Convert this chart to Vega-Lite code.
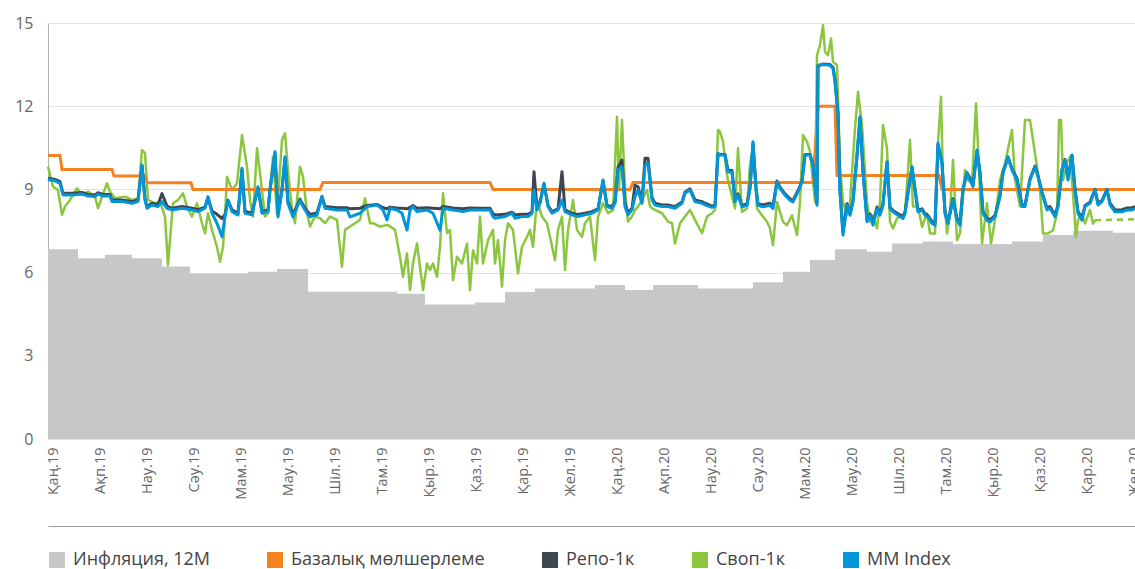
{
  "$schema": "https://vega.github.io/schema/vega-lite/v6.json",
  "width": 1087,
  "height": 416,
  "autosize": {"type": "none"},
  "padding": {"left": 48, "top": 23, "right": 0, "bottom": 130},
  "background": "white",
  "config": {
    "view": {"stroke": null},
    "font": "Open Sans",
    "axis": {"labelFont": "Open Sans", "labelColor": "#666666", "ticks": false}
  },
  "datasets": {
    "infl": [
      {"d": 0, "v": 6.84}, {"d": 30, "v": 6.52}, {"d": 57, "v": 6.64}, {"d": 84, "v": 6.52},
      {"d": 114, "v": 6.22}, {"d": 142, "v": 5.97}, {"d": 200, "v": 6.03}, {"d": 229, "v": 6.13},
      {"d": 260, "v": 5.31}, {"d": 349, "v": 5.24}, {"d": 377, "v": 4.85}, {"d": 427, "v": 4.92},
      {"d": 457, "v": 5.3}, {"d": 487, "v": 5.43}, {"d": 547, "v": 5.55}, {"d": 577, "v": 5.37},
      {"d": 605, "v": 5.55}, {"d": 650, "v": 5.43}, {"d": 705, "v": 5.65}, {"d": 735, "v": 6.03},
      {"d": 762, "v": 6.45}, {"d": 787, "v": 6.84}, {"d": 819, "v": 6.75}, {"d": 844, "v": 7.05},
      {"d": 875, "v": 7.12}, {"d": 905, "v": 7.03}, {"d": 964, "v": 7.12}, {"d": 995, "v": 7.36},
      {"d": 1025, "v": 7.51}, {"d": 1065, "v": 7.44}, {"d": 1087, "v": 7.44}
    ],
    "base": [
      {"d": 0, "v": 10.22}, {"d": 12, "v": 10.22}, {"d": 14, "v": 9.72}, {"d": 64, "v": 9.72},
      {"d": 66, "v": 9.48}, {"d": 97, "v": 9.48}, {"d": 99, "v": 9.24}, {"d": 143, "v": 9.24},
      {"d": 145, "v": 9.0}, {"d": 272, "v": 9.0}, {"d": 275, "v": 9.25}, {"d": 442, "v": 9.25},
      {"d": 445, "v": 9.0}, {"d": 582, "v": 9.0}, {"d": 585, "v": 9.25}, {"d": 765, "v": 9.25},
      {"d": 770, "v": 12.0}, {"d": 787, "v": 12.0}, {"d": 789, "v": 9.5}, {"d": 891, "v": 9.5},
      {"d": 894, "v": 9.0}, {"d": 1087, "v": 9.0}
    ],
    "swapfc": [{"d": 1047, "v": 7.89}, {"d": 1087, "v": 7.92}],
    "swap": [
      {"d":0,"v":9.82},{"d":5,"v":9.10},{"d":10,"v":8.98},{"d":14,"v":8.08},{"d":17,"v":8.38},{"d":22,"v":8.62},
      {"d":29,"v":9.04},{"d":34,"v":8.80},{"d":40,"v":8.92},{"d":47,"v":8.74},{"d":50,"v":8.32},{"d":54,"v":8.74},
      {"d":59,"v":9.22},{"d":62,"v":8.92},{"d":67,"v":8.68},{"d":77,"v":8.74},{"d":84,"v":8.62},{"d":90,"v":8.68},
      {"d":94,"v":10.42},{"d":97,"v":10.30},{"d":100,"v":8.62},{"d":107,"v":8.50},{"d":112,"v":8.56},{"d":117,"v":8.02},
      {"d":120,"v":6.27},{"d":122,"v":7.17},{"d":125,"v":8.50},{"d":130,"v":8.62},{"d":135,"v":8.86},{"d":139,"v":8.38},
      {"d":144,"v":8.02},{"d":149,"v":8.50},{"d":154,"v":7.78},{"d":157,"v":7.42},{"d":160,"v":8.14},{"d":164,"v":7.54},
      {"d":169,"v":6.93},{"d":172,"v":6.39},{"d":175,"v":6.93},{"d":177,"v":8.02},{"d":179,"v":9.46},{"d":184,"v":8.98},
      {"d":189,"v":9.22},{"d":194,"v":10.96},{"d":199,"v":9.82},{"d":202,"v":8.62},{"d":205,"v":8.02},{"d":209,"v":10.48},
      {"d":212,"v":9.58},{"d":217,"v":8.02},{"d":220,"v":8.14},{"d":222,"v":8.98},{"d":225,"v":10.18},{"d":229,"v":8.14},
      {"d":234,"v":10.78},{"d":237,"v":11.02},{"d":240,"v":9.70},{"d":244,"v":8.26},{"d":247,"v":7.78},{"d":252,"v":9.82},
      {"d":255,"v":9.46},{"d":259,"v":8.14},{"d":262,"v":7.66},{"d":267,"v":8.02},{"d":272,"v":7.96},{"d":277,"v":7.78},
      {"d":282,"v":8.02},{"d":289,"v":7.90},{"d":294,"v":6.21},{"d":297,"v":7.54},{"d":302,"v":7.66},{"d":307,"v":7.78},
      {"d":312,"v":7.90},{"d":317,"v":8.68},{"d":322,"v":7.78},{"d":325,"v":7.78},{"d":332,"v":7.66},{"d":340,"v":7.72},
      {"d":347,"v":7.54},{"d":352,"v":6.57},{"d":355,"v":5.85},{"d":359,"v":6.69},{"d":362,"v":5.37},{"d":365,"v":6.33},
      {"d":369,"v":7.05},{"d":372,"v":6.21},{"d":375,"v":5.37},{"d":379,"v":6.33},{"d":382,"v":6.09},{"d":385,"v":6.33},
      {"d":389,"v":5.85},{"d":392,"v":6.93},{"d":395,"v":8.86},{"d":399,"v":7.42},{"d":402,"v":7.54},{"d":405,"v":5.73},
      {"d":409,"v":6.57},{"d":414,"v":6.33},{"d":419,"v":7.05},{"d":422,"v":5.37},{"d":425,"v":6.81},{"d":429,"v":6.33},
      {"d":432,"v":8.02},{"d":435,"v":6.33},{"d":440,"v":7.17},{"d":445,"v":7.54},{"d":447,"v":6.33},{"d":450,"v":7.17},
      {"d":454,"v":5.49},{"d":457,"v":7.17},{"d":460,"v":7.78},{"d":465,"v":7.54},{"d":470,"v":5.97},{"d":474,"v":6.93},
      {"d":479,"v":7.29},{"d":482,"v":7.54},{"d":485,"v":6.93},{"d":489,"v":8.62},{"d":494,"v":8.02},{"d":499,"v":7.78},
      {"d":502,"v":7.29},{"d":507,"v":6.45},{"d":510,"v":7.54},{"d":514,"v":8.02},{"d":517,"v":6.09},{"d":520,"v":7.54},
      {"d":525,"v":8.62},{"d":529,"v":7.54},{"d":534,"v":7.29},{"d":537,"v":7.78},{"d":542,"v":8.02},{"d":547,"v":6.45},
      {"d":550,"v":8.02},{"d":555,"v":8.50},{"d":560,"v":8.14},{"d":565,"v":8.26},{"d":569,"v":11.62},{"d":571,"v":8.98},
      {"d":574,"v":11.50},{"d":577,"v":8.98},{"d":580,"v":7.84},{"d":584,"v":8.02},{"d":587,"v":8.26},{"d":590,"v":8.38},
      {"d":594,"v":8.62},{"d":599,"v":8.98},{"d":602,"v":8.38},{"d":607,"v":8.26},{"d":614,"v":8.14},{"d":620,"v":7.84},
      {"d":624,"v":7.78},{"d":627,"v":7.05},{"d":632,"v":7.78},{"d":637,"v":8.02},{"d":642,"v":8.26},{"d":647,"v":7.90},
      {"d":654,"v":7.42},{"d":659,"v":8.02},{"d":664,"v":8.14},{"d":667,"v":8.26},{"d":670,"v":11.14},{"d":672,"v":11.08},
      {"d":675,"v":10.72},{"d":679,"v":9.51},{"d":682,"v":9.03},{"d":687,"v":8.31},{"d":690,"v":10.48},{"d":694,"v":8.19},
      {"d":699,"v":8.31},{"d":702,"v":9.87},{"d":705,"v":10.48},{"d":709,"v":8.31},{"d":714,"v":8.07},{"d":719,"v":7.83},
      {"d":722,"v":7.59},{"d":725,"v":6.99},{"d":729,"v":8.55},{"d":732,"v":8.19},{"d":735,"v":7.83},{"d":739,"v":7.71},
      {"d":744,"v":8.07},{"d":749,"v":7.35},{"d":752,"v":8.55},{"d":755,"v":10.96},{"d":759,"v":10.72},{"d":762,"v":10.36},
      {"d":767,"v":8.55},{"d":769,"v":13.84},{"d":772,"v":14.20},{"d":775,"v":14.92},{"d":777,"v":13.96},{"d":780,"v":13.84},
      {"d":783,"v":14.44},{"d":785,"v":13.60},{"d":789,"v":13.48},{"d":792,"v":9.87},{"d":795,"v":8.55},{"d":799,"v":8.07},
      {"d":802,"v":8.55},{"d":807,"v":11.20},{"d":810,"v":12.52},{"d":814,"v":11.32},{"d":819,"v":8.55},{"d":822,"v":7.83},
      {"d":825,"v":8.07},{"d":829,"v":7.59},{"d":832,"v":8.55},{"d":835,"v":11.32},{"d":839,"v":10.48},{"d":842,"v":7.83},
      {"d":845,"v":7.59},{"d":849,"v":7.95},{"d":854,"v":8.07},{"d":857,"v":8.13},{"d":862,"v":10.78},{"d":865,"v":8.38},
      {"d":870,"v":8.38},{"d":874,"v":7.65},{"d":879,"v":8.13},{"d":882,"v":7.41},{"d":887,"v":7.41},{"d":890,"v":10.66},
      {"d":893,"v":12.34},{"d":895,"v":9.34},{"d":899,"v":7.41},{"d":902,"v":8.13},{"d":905,"v":10.06},{"d":909,"v":7.17},
      {"d":912,"v":7.41},{"d":917,"v":9.70},{"d":920,"v":9.34},{"d":924,"v":9.22},{"d":928,"v":12.10},{"d":930,"v":10.54},
      {"d":934,"v":7.05},{"d":939,"v":8.50},{"d":943,"v":7.05},{"d":947,"v":7.89},{"d":952,"v":9.34},{"d":957,"v":9.94},
      {"d":964,"v":11.14},{"d":967,"v":9.34},{"d":972,"v":8.38},{"d":977,"v":11.50},{"d":982,"v":11.50},{"d":985,"v":10.78},
      {"d":989,"v":9.82},{"d":992,"v":8.98},{"d":995,"v":7.41},{"d":1000,"v":7.41},{"d":1005,"v":7.53},{"d":1009,"v":8.13},
      {"d":1011,"v":11.50},{"d":1013,"v":11.50},{"d":1015,"v":9.34},{"d":1019,"v":9.94},{"d":1022,"v":10.18},{"d":1025,"v":8.86},
      {"d":1028,"v":7.29},{"d":1030,"v":7.89},{"d":1034,"v":8.13},{"d":1037,"v":7.77},{"d":1042,"v":8.26},{"d":1045,"v":7.77},
      {"d":1047,"v":7.89}
    ],
    "mr": [
      {"d":0,"mm":9.36,"repo":9.40},{"d":7,"mm":9.31,"repo":9.36},{"d":12,"mm":9.22,"repo":9.28},{"d":15,"mm":8.80,"repo":8.86},
      {"d":24,"mm":8.80,"repo":8.86},{"d":34,"mm":8.83,"repo":8.89},{"d":40,"mm":8.76,"repo":8.82},{"d":47,"mm":8.74,"repo":8.80},
      {"d":50,"mm":8.83,"repo":8.88},{"d":55,"mm":8.76,"repo":8.82},{"d":62,"mm":8.76,"repo":8.82},{"d":64,"mm":8.56,"repo":8.62},
      {"d":74,"mm":8.56,"repo":8.62},{"d":84,"mm":8.50,"repo":8.56},{"d":90,"mm":8.56,"repo":8.62},{"d":94,"mm":9.88,"repo":9.85},
      {"d":97,"mm":8.62,"repo":8.66},{"d":99,"mm":8.32,"repo":8.38},{"d":104,"mm":8.44,"repo":8.50},{"d":110,"mm":8.38,"repo":8.45},
      {"d":114,"mm":8.56,"repo":8.85},{"d":119,"mm":8.32,"repo":8.40},{"d":124,"mm":8.26,"repo":8.32},{"d":134,"mm":8.32,"repo":8.38},
      {"d":144,"mm":8.26,"repo":8.32},{"d":150,"mm":8.20,"repo":8.27},{"d":157,"mm":8.32,"repo":8.36},{"d":160,"mm":8.74,"repo":8.70},
      {"d":164,"mm":8.14,"repo":8.22},{"d":169,"mm":7.78,"repo":8.10},{"d":174,"mm":7.29,"repo":7.95},{"d":177,"mm":8.02,"repo":8.10},
      {"d":180,"mm":8.62,"repo":8.60},{"d":184,"mm":8.20,"repo":8.26},{"d":190,"mm":8.08,"repo":8.14},{"d":194,"mm":9.76,"repo":9.70},
      {"d":197,"mm":8.14,"repo":8.20},{"d":204,"mm":8.08,"repo":8.15},{"d":210,"mm":9.10,"repo":9.05},{"d":214,"mm":8.14,"repo":8.20},
      {"d":220,"mm":8.20,"repo":8.26},{"d":222,"mm":8.97,"repo":9.00},{"d":227,"mm":10.36,"repo":10.30},{"d":230,"mm":8.01,"repo":8.10},
      {"d":234,"mm":8.97,"repo":9.00},{"d":237,"mm":10.18,"repo":10.10},{"d":240,"mm":8.49,"repo":8.55},{"d":245,"mm":8.01,"repo":8.10},
      {"d":252,"mm":8.61,"repo":8.65},{"d":255,"mm":8.38,"repo":8.44},{"d":259,"mm":8.14,"repo":8.22},{"d":262,"mm":8.01,"repo":8.10},
      {"d":269,"mm":8.08,"repo":8.15},{"d":274,"mm":8.74,"repo":8.75},{"d":277,"mm":8.32,"repo":8.38},{"d":289,"mm":8.26,"repo":8.34},
      {"d":299,"mm":8.26,"repo":8.34},{"d":302,"mm":8.01,"repo":8.30},{"d":312,"mm":8.14,"repo":8.32},{"d":319,"mm":8.38,"repo":8.42},
      {"d":329,"mm":8.44,"repo":8.46},{"d":335,"mm":8.26,"repo":8.34},{"d":339,"mm":7.90,"repo":8.30},{"d":342,"mm":8.32,"repo":8.36},
      {"d":349,"mm":8.26,"repo":8.33},{"d":354,"mm":8.14,"repo":8.32},{"d":359,"mm":7.53,"repo":8.30},{"d":362,"mm":8.26,"repo":8.35},
      {"d":365,"mm":8.38,"repo":8.42},{"d":369,"mm":8.20,"repo":8.32},{"d":379,"mm":8.26,"repo":8.34},{"d":385,"mm":8.14,"repo":8.32},
      {"d":392,"mm":7.53,"repo":8.30},{"d":395,"mm":8.32,"repo":8.38},{"d":405,"mm":8.26,"repo":8.33},{"d":415,"mm":8.20,"repo":8.30},
      {"d":422,"mm":8.26,"repo":8.33},{"d":432,"mm":8.26,"repo":8.32},{"d":442,"mm":8.26,"repo":8.32},{"d":445,"mm":8.02,"repo":8.12},
      {"d":447,"mm":7.96,"repo":8.08},{"d":457,"mm":8.02,"repo":8.10},{"d":464,"mm":8.14,"repo":8.18},{"d":467,"mm":7.96,"repo":8.08},
      {"d":474,"mm":8.02,"repo":8.10},{"d":480,"mm":8.02,"repo":8.10},{"d":484,"mm":8.14,"repo":8.18},{"d":486,"mm":8.98,"repo":9.64},
      {"d":489,"mm":8.26,"repo":8.30},{"d":492,"mm":8.50,"repo":8.54},{"d":496,"mm":9.22,"repo":9.20},{"d":500,"mm":8.38,"repo":8.42},
      {"d":504,"mm":8.14,"repo":8.20},{"d":510,"mm":8.26,"repo":8.30},{"d":514,"mm":8.62,"repo":9.64},{"d":517,"mm":8.20,"repo":8.26},
      {"d":524,"mm":8.08,"repo":8.14},{"d":530,"mm":8.02,"repo":8.10},{"d":537,"mm":8.08,"repo":8.14},{"d":544,"mm":8.14,"repo":8.20},
      {"d":550,"mm":8.26,"repo":8.30},{"d":555,"mm":9.34,"repo":9.30},{"d":559,"mm":8.38,"repo":8.42},{"d":564,"mm":8.32,"repo":8.38},
      {"d":567,"mm":8.50,"repo":8.55},{"d":570,"mm":9.70,"repo":9.80},{"d":574,"mm":9.82,"repo":10.06},{"d":577,"mm":8.38,"repo":8.50},
      {"d":580,"mm":8.08,"repo":8.16},{"d":584,"mm":8.26,"repo":8.32},{"d":587,"mm":8.74,"repo":9.15},{"d":590,"mm":8.98,"repo":9.10},
      {"d":594,"mm":8.50,"repo":8.56},{"d":597,"mm":9.88,"repo":10.12},{"d":600,"mm":9.94,"repo":10.12},{"d":604,"mm":8.62,"repo":8.70},
      {"d":607,"mm":8.44,"repo":8.50},{"d":614,"mm":8.38,"repo":8.44},{"d":620,"mm":8.38,"repo":8.44},{"d":627,"mm":8.32,"repo":8.38},
      {"d":634,"mm":8.50,"repo":8.55},{"d":637,"mm":8.86,"repo":8.90},{"d":642,"mm":8.98,"repo":9.02},{"d":647,"mm":8.56,"repo":8.62},
      {"d":654,"mm":8.50,"repo":8.56},{"d":657,"mm":8.44,"repo":8.50},{"d":664,"mm":8.35,"repo":8.40},{"d":667,"mm":8.38,"repo":8.42},
      {"d":670,"mm":10.30,"repo":10.28},{"d":672,"mm":10.24,"repo":10.26},{"d":677,"mm":10.24,"repo":10.26},{"d":680,"mm":9.63,"repo":9.68},
      {"d":684,"mm":9.63,"repo":9.68},{"d":687,"mm":8.55,"repo":8.60},{"d":690,"mm":8.79,"repo":8.84},{"d":694,"mm":8.37,"repo":8.42},
      {"d":699,"mm":8.43,"repo":8.48},{"d":702,"mm":9.03,"repo":9.06},{"d":705,"mm":10.72,"repo":10.65},{"d":708,"mm":9.03,"repo":9.08},
      {"d":710,"mm":8.43,"repo":8.48},{"d":715,"mm":8.37,"repo":8.44},{"d":722,"mm":8.43,"repo":8.50},{"d":725,"mm":8.31,"repo":8.40},
      {"d":729,"mm":9.27,"repo":9.30},{"d":732,"mm":9.03,"repo":9.08},{"d":737,"mm":8.79,"repo":8.84},{"d":742,"mm":8.61,"repo":8.66},
      {"d":745,"mm":8.55,"repo":8.60},{"d":750,"mm":8.91,"repo":8.96},{"d":754,"mm":9.27,"repo":9.30},{"d":757,"mm":10.24,"repo":10.26},
      {"d":762,"mm":10.24,"repo":10.26},{"d":765,"mm":9.87,"repo":9.90},{"d":769,"mm":8.43,"repo":8.50},{"d":770,"mm":13.48,"repo":13.45},
      {"d":775,"mm":13.50,"repo":13.52},{"d":782,"mm":13.48,"repo":13.50},{"d":785,"mm":13.36,"repo":13.40},{"d":787,"mm":12.88,"repo":12.95},
      {"d":790,"mm":11.68,"repo":11.75},{"d":792,"mm":8.91,"repo":8.96},{"d":795,"mm":7.35,"repo":7.45},{"d":799,"mm":8.43,"repo":8.48},
      {"d":802,"mm":8.07,"repo":8.12},{"d":805,"mm":8.55,"repo":8.60},{"d":809,"mm":10.24,"repo":10.22},{"d":812,"mm":11.62,"repo":11.55},
      {"d":815,"mm":9.63,"repo":9.66},{"d":819,"mm":7.83,"repo":7.90},{"d":822,"mm":8.07,"repo":8.12},{"d":825,"mm":7.71,"repo":7.78},
      {"d":829,"mm":8.31,"repo":8.36},{"d":832,"mm":8.07,"repo":8.12},{"d":835,"mm":8.43,"repo":8.48},{"d":839,"mm":10.00,"repo":9.98},
      {"d":842,"mm":8.31,"repo":8.36},{"d":845,"mm":8.19,"repo":8.24},{"d":850,"mm":8.07,"repo":8.12},{"d":855,"mm":7.95,"repo":8.02},
      {"d":857,"mm":8.13,"repo":8.18},{"d":860,"mm":8.86,"repo":8.90},{"d":864,"mm":9.82,"repo":9.80},{"d":867,"mm":8.98,"repo":9.02},
      {"d":870,"mm":8.19,"repo":8.24},{"d":874,"mm":8.26,"repo":8.30},{"d":877,"mm":8.07,"repo":8.12},{"d":880,"mm":8.01,"repo":8.06},
      {"d":884,"mm":7.77,"repo":7.84},{"d":887,"mm":7.71,"repo":7.78},{"d":890,"mm":10.66,"repo":10.60},{"d":894,"mm":9.94,"repo":9.96},
      {"d":897,"mm":8.13,"repo":8.18},{"d":900,"mm":7.77,"repo":7.84},{"d":905,"mm":8.62,"repo":8.66},{"d":909,"mm":7.89,"repo":7.96},
      {"d":912,"mm":7.71,"repo":7.78},{"d":915,"mm":8.98,"repo":9.02},{"d":919,"mm":9.58,"repo":9.60},{"d":922,"mm":9.34,"repo":9.40},
      {"d":925,"mm":9.10,"repo":9.15},{"d":929,"mm":10.42,"repo":10.38},{"d":932,"mm":9.58,"repo":9.62},{"d":935,"mm":8.13,"repo":8.18},
      {"d":939,"mm":7.89,"repo":7.95},{"d":942,"mm":7.83,"repo":7.90},{"d":947,"mm":8.01,"repo":8.06},{"d":952,"mm":8.74,"repo":8.78},
      {"d":955,"mm":9.58,"repo":9.62},{"d":960,"mm":10.18,"repo":10.15},{"d":964,"mm":9.70,"repo":9.74},{"d":969,"mm":9.34,"repo":9.40},
      {"d":974,"mm":8.38,"repo":8.44},{"d":977,"mm":8.38,"repo":8.44},{"d":982,"mm":9.34,"repo":9.38},{"d":987,"mm":9.82,"repo":9.84},
      {"d":990,"mm":9.46,"repo":9.50},{"d":994,"mm":8.86,"repo":8.90},{"d":999,"mm":8.26,"repo":8.32},{"d":1002,"mm":8.32,"repo":8.38},
      {"d":1007,"mm":8.01,"repo":8.08},{"d":1010,"mm":8.38,"repo":8.42},{"d":1014,"mm":9.70,"repo":9.72},{"d":1017,"mm":10.06,"repo":10.08},
      {"d":1020,"mm":9.34,"repo":9.40},{"d":1024,"mm":10.24,"repo":10.22},{"d":1027,"mm":8.98,"repo":9.02},{"d":1030,"mm":8.13,"repo":8.20},
      {"d":1034,"mm":7.89,"repo":7.96},{"d":1037,"mm":8.38,"repo":8.42},{"d":1042,"mm":8.50,"repo":8.54},{"d":1047,"mm":8.98,"repo":9.00},
      {"d":1050,"mm":8.44,"repo":8.50},{"d":1054,"mm":8.56,"repo":8.60},{"d":1059,"mm":8.98,"repo":9.00},{"d":1062,"mm":8.44,"repo":8.50},
      {"d":1067,"mm":8.19,"repo":8.26},{"d":1074,"mm":8.19,"repo":8.27},{"d":1079,"mm":8.26,"repo":8.33},{"d":1084,"mm":8.26,"repo":8.34},
      {"d":1087,"mm":8.32,"repo":8.38}
    ]
  },
  "layer": [
    {
      "data": {"name": "infl"},
      "mark": {"type": "area", "interpolate": "step-after"},
      "encoding": {
        "x": {
          "field": "d", "type": "quantitative",
          "scale": {"domain": [0, 1087], "nice": false, "zero": false},
          "axis": {
            "orient": "bottom", "title": null, "domain": false, "grid": false, "ticks": false,
            "values": [5,52,99,146,193,240,287,334,381,428,475,522,569,616,663,710,757,804,851,898,945,992,1039,1086],
            "labelExpr": "['Қаң.19','Ақп.19','Нау.19','Сәу.19','Мам.19','Мау.19','Шіл.19','Там.19','Қыр.19','Қаз.19','Қар.19','Жел.19','Қаң.20','Ақп.20','Нау.20','Сәу.20','Мам.20','Мау.20','Шіл.20','Там.20','Қыр.20','Қаз.20','Қар.20','Жел.20'][round((datum.value - 5) / 47)]",
            "labelAngle": -90, "labelAlign": "right", "labelBaseline": "middle",
            "labelFontSize": 14.5, "labelPadding": 8, "labelOverlap": false, "labelFlush": false, "labelBound": false
          }
        },
        "y": {
          "field": "v", "type": "quantitative", "title": null,
          "scale": {"domain": [0, 15], "nice": false},
          "axis": {
            "values": [0, 3, 6, 9, 12, 15], "grid": true, "gridColor": "#e2e2e2", "gridWidth": 1,
            "domain": true, "domainColor": "#b0b0b0", "ticks": false,
            "labelFontSize": 16, "labelPadding": 15, "labelColor": "#666666"
          }
        },
        "color": {
          "datum": "Инфляция, 12M",
          "scale": {
            "domain": ["Инфляция, 12M", "Базалық мөлшерлеме", "Репо-1к", "Своп-1к", "MM Index"],
            "range": ["#c6c7c9", "#f58220", "#3f4651", "#8cc63f", "#0096d8"]
          },
          "legend": {
            "title": null, "orient": "none", "legendX": 0, "legendY": 528,
            "direction": "horizontal", "columns": 5, "columnPadding": 56,
            "symbolType": "square", "symbolSize": 256, "symbolStrokeWidth": 0,
            "labelFont": "Open Sans", "labelFontSize": 18, "labelColor": "#444444", "labelOffset": 7,
            "labelLimit": 400,
            "encode": {
              "symbols": {
                "update": {
                  "fill": {"scale": "color", "field": "value"},
                  "stroke": {"value": "transparent"},
                  "shape": {"value": "square"},
                  "size": {"value": 256},
                  "fillOpacity": {"value": 1},
                  "opacity": {"value": 1}
                }
              }
            }
          }
        }
      }
    },
    {
      "data": {"name": "swap"},
      "mark": {"type": "line", "strokeWidth": 2.5, "strokeJoin": "round"},
      "encoding": {
        "x": {"field": "d", "type": "quantitative", "axis": null},
        "y": {"field": "v", "type": "quantitative", "title": null},
        "color": {"datum": "Своп-1к"}
      }
    },
    {
      "data": {"name": "swapfc"},
      "mark": {"type": "line", "strokeWidth": 2.5, "strokeDash": [6, 5], "color": "#8cc63f"},
      "encoding": {
        "x": {"field": "d", "type": "quantitative", "axis": null},
        "y": {"field": "v", "type": "quantitative", "title": null}
      }
    },
    {
      "data": {"name": "base"},
      "mark": {"type": "line", "strokeWidth": 3},
      "encoding": {
        "x": {
          "field": "d", "type": "quantitative",
          "axis": {"orient": "bottom", "offset": 87, "title": null, "labels": false, "ticks": false, "grid": false, "domain": true, "domainColor": "#9d9d9d", "domainWidth": 1}
        },
        "y": {"field": "v", "type": "quantitative", "title": null},
        "color": {"datum": "Базалық мөлшерлеме"}
      }
    },
    {
      "data": {"name": "mr"},
      "mark": {"type": "line", "strokeWidth": 3, "strokeJoin": "round"},
      "encoding": {
        "x": {"field": "d", "type": "quantitative", "axis": null},
        "y": {"field": "repo", "type": "quantitative", "title": null},
        "color": {"datum": "Репо-1к"}
      }
    },
    {
      "data": {"name": "mr"},
      "mark": {"type": "line", "strokeWidth": 3, "strokeJoin": "round"},
      "encoding": {
        "x": {"field": "d", "type": "quantitative", "axis": null},
        "y": {"field": "mm", "type": "quantitative", "title": null},
        "color": {"datum": "MM Index"}
      }
    }
  ],
  "resolve": {"axis": {"x": "independent"}}
}
